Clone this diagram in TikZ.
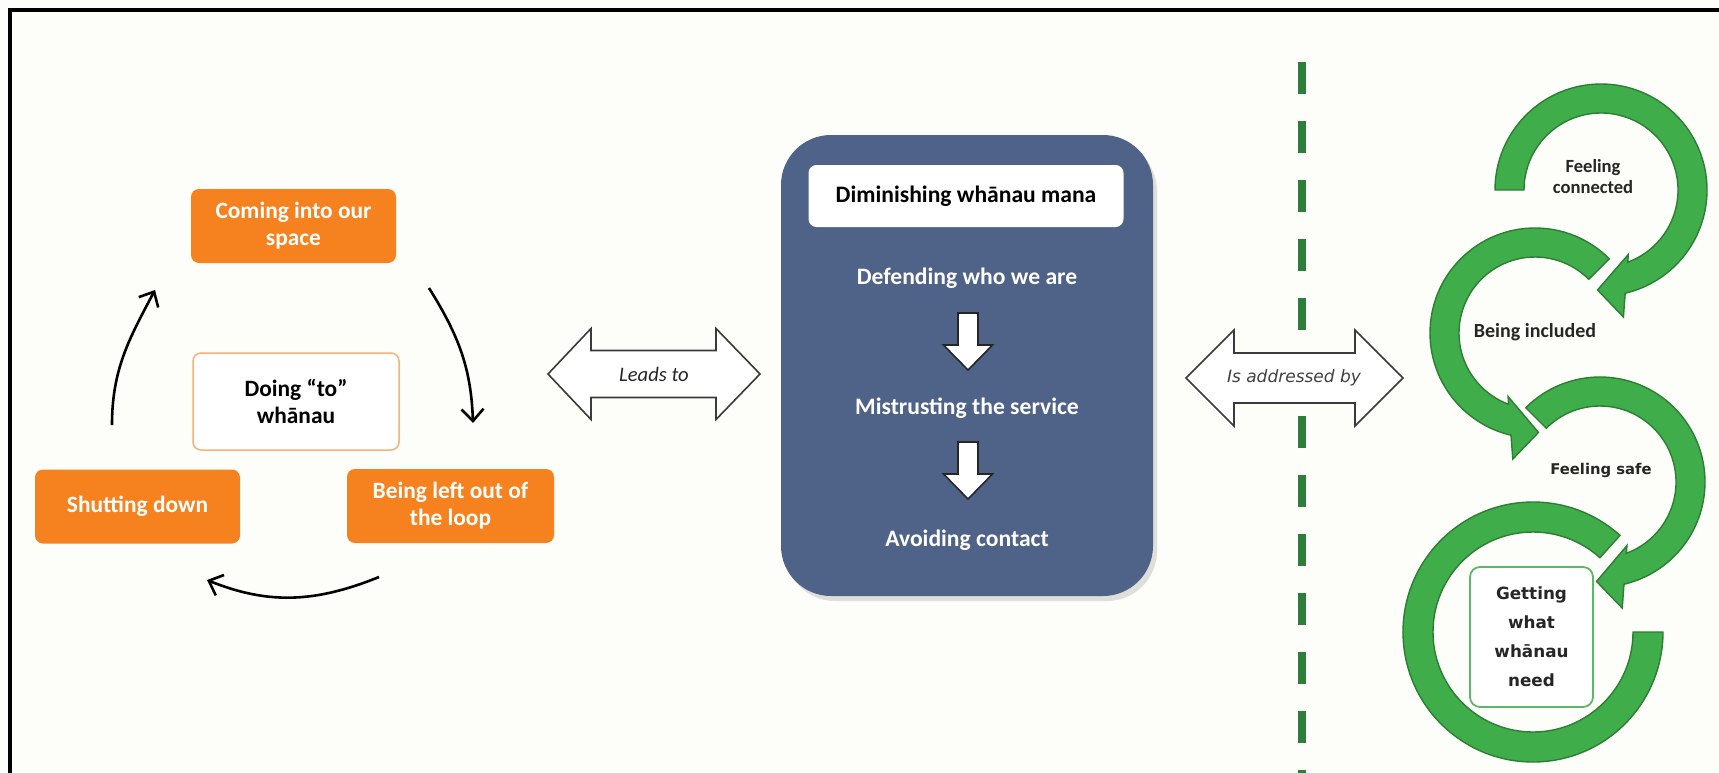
\documentclass[tikz,border=0pt]{standalone}
\usepackage{fontspec}
\setmainfont{Carlito}
\newfontfamily\dejavu{DejaVu Sans}
\usetikzlibrary{arrows.meta}
\definecolor{bg}{HTML}{FDFDF9}
\definecolor{orng}{HTML}{F5821F}
\definecolor{orngline}{HTML}{F3B27C}
\definecolor{slate}{HTML}{4F6288}
\definecolor{grn}{HTML}{3FAD4A}
\definecolor{grnline}{HTML}{2C7E35}
\definecolor{dashgrn}{HTML}{2E7D3A}
\definecolor{boxgrn}{HTML}{5DB866}
\definecolor{arrgrey}{HTML}{3A3A3A}
\tikzset{
  orangebox/.style={rectangle, rounded corners=4pt, fill=orng, text=white,
    font=\bfseries\fontsize{11.7}{13.5}\selectfont, align=center,
    minimum width=102.5pt, minimum height=37pt, inner sep=0pt},
  centrebox/.style={orangebox, fill=white, draw=orngline, line width=0.75pt, text=black,
    minimum height=48.5pt, minimum width=103pt},
  cyclearrow/.style={line width=1.3pt, -{Straight Barb[length=6pt,width=11pt]}},
  blockarrow/.style={fill=white, draw=arrgrey, line width=0.8pt, line join=miter},
  slatetext/.style={text=white, font=\bfseries\fontsize{11.8}{13}\selectfont},
  grnarrow/.style={fill=grn, draw=grnline, line width=0.7pt, line join=miter},
  grntext/.style={font=\dejavu\bfseries\fontsize{7.4}{11}\selectfont, align=center, text=black!85},
  downblock/.pic={\draw[fill=white, draw=black!85, line width=0.8pt, line join=miter]
     (-10,0) -- (10,0) -- (10,-32) -- (24.5,-32) -- (0,-57) -- (-24.5,-32) -- (-10,-32) -- cycle;}
}
\begin{document}
\begin{tikzpicture}[x=0.5pt,y=0.5pt]
\useasboundingbox (0,0) rectangle (1719,-772);
\clip (0,0) rectangle (1719,-772);
\fill[bg] (0,0) rectangle (1719,-772);
\draw[line width=2pt] (10,-800) -- (10,-10) -- (1750,-10);

% ---------- cycle ----------
\node[orangebox] (coming) at (293.5,-226) {Coming into our\\space};
\node[centrebox] (doing) at (296,-401.5) {Doing “to”\\whānau};
\node[orangebox] (shut) at (137.5,-506.5) {Shutting down};
\node[orangebox, minimum width=103.5pt] (leftout) at (450.5,-506) {Being left out of\\the loop};

\coordinate (a1s) at (429,-288);
\coordinate (a1e) at (473,-423);
\coordinate (a2s) at (379,-577);
\coordinate (a2e) at (207,-580);
\coordinate (a3s) at (112,-425);
\coordinate (a3e) at (155,-290);
\draw[cyclearrow] (a1s) to[out=-58,in=92] (a1e);
\draw[cyclearrow] (a2s) to[out=-158,in=-22] (a2e);
\draw[cyclearrow] (a3s) to[out=90,in=-118] (a3e);

% ---------- leads to ----------
\draw[blockarrow] (548,-374) -- (591,-328.5) -- (591,-350.5) -- (716,-350.5) -- (716,-328.5)
  -- (760,-374) -- (716,-419.5) -- (716,-397.5) -- (591,-397.5) -- (591,-419.5) -- cycle;
\node[font=\itshape\fontsize{10.3}{12}\selectfont, text=black!85] (leads) at (654,-374) {Leads to};

% ---------- slate box ----------
\fill[black, opacity=0.12, rounded corners=25pt] (785,-141) rectangle (1157,-601);
\node[rectangle, rounded corners=25pt, fill=slate, minimum width=186pt, minimum height=230.5pt,
  inner sep=0pt] (mana) at (967,-365.5) {};
\node[rectangle, rounded corners=4pt, fill=white, minimum width=157.5pt, minimum height=31pt,
  inner sep=0pt, font=\bfseries\fontsize{11.8}{13}\selectfont] (title) at (966,-196) {Diminishing whānau mana};
\node[slatetext] (defend) at (967,-278) {Defending who we are};
\node[slatetext] (mistrust) at (967,-408) {Mistrusting the service};
\node[slatetext] (avoid) at (967,-540) {Avoiding contact};
\pic at (968,-313) {downblock};
\pic at (968,-442) {downblock};

% ---------- dashed divider ----------
\draw[dashgrn, line width=4pt, dash pattern=on 16pt off 13.5pt] (1302,-62) -- (1302,-800);

% ---------- is addressed by ----------
\draw[blockarrow] (1186,-378) -- (1234,-330) -- (1234,-353) -- (1355,-353) -- (1355,-330)
  -- (1403,-378) -- (1355,-426) -- (1355,-403) -- (1234,-403) -- (1234,-426) -- cycle;
\node[font=\dejavu\itshape\fontsize{8.5}{10}\selectfont, text=black!75] (addr) at (1294,-378) {Is addressed by};

% ---------- green circular arrows ----------
\begin{scope}[shift={(1533,-632)}]
\draw[grnarrow] (48:130) arc[start angle=48, end angle=360, radius=130] -- (0:100)
  arc[start angle=360, end angle=48, radius=100] -- cycle;
\end{scope}
\begin{scope}[shift={(1600,-482)}]
\draw[grnarrow] (135:105) arc[start angle=135, end angle=-76.8, radius=105] -- (-80:128)
  -- (-92:99.5) -- (-67:69) -- (-69.7:76) arc[start angle=-69.7, end angle=135, radius=76] -- cycle;
\end{scope}
\begin{scope}[shift={(1535,-333)}]
\draw[grnarrow] (45:105) arc[start angle=45, end angle=256.8, radius=105] -- (260:128)
  -- (272:99.5) -- (247:69) -- (249.7:76) arc[start angle=249.7, end angle=45, radius=76] -- cycle;
\end{scope}
\begin{scope}[shift={(1601,-190)}]
\draw[grnarrow] (180:106) arc[start angle=180, end angle=-76.8, radius=106] -- (-80:129)
  -- (-92:100) -- (-67:70) -- (-69.7:77) arc[start angle=-69.7, end angle=180, radius=77] -- cycle;
\end{scope}

\node[grntext, font=\bfseries\fontsize{9.3}{10.5}\selectfont] (fc) at (1593,-177) {Feeling\\connected};
\node[font=\bfseries\fontsize{10}{12}\selectfont, text=black!85] (bi) at (1535,-332) {Being included};
\node[grntext] (fs) at (1601,-470) {Feeling safe};
\node[rectangle, rounded corners=5pt, fill=white, draw=boxgrn, line width=0.9pt,
  minimum width=61.5pt, minimum height=70pt, inner sep=0pt, align=center,
  font=\dejavu\bfseries\fontsize{8.4}{14.5}\selectfont, text=black!85] (gw) at (1531.5,-637)
  {Getting\\what\\whānau\\need};
\end{tikzpicture}
\end{document}
